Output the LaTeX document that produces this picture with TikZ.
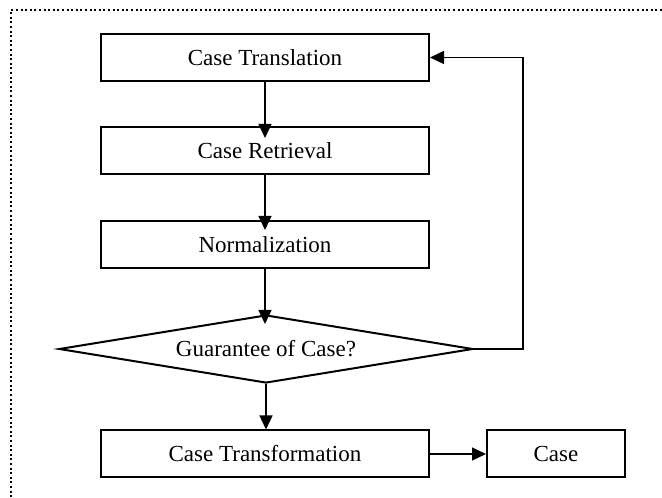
\documentclass[tikz,border=0pt]{standalone}
\usepackage{fontspec}
\setmainfont{Liberation Serif}
\usetikzlibrary{shapes.geometric,arrows.meta}
\tikzset{
  stepbox/.style={draw, line width=2pt, minimum width=328pt, minimum height=47pt, inner sep=0pt, font=\fontsize{23}{27}\selectfont},
  smallbox/.style={stepbox, minimum width=138pt},
  decision/.style={diamond, draw, line width=2pt, minimum width=414pt, minimum height=68pt, aspect=6, inner sep=0pt, font=\fontsize{23}{27}\selectfont},
  conn/.style={line width=1.4pt, -{Triangle[length=14pt,width=13pt]}},
  frameline/.style={line width=2pt, dash pattern=on 2pt off 2.6pt}
}
\begin{document}
\begin{tikzpicture}[x=1pt,y=1pt]
\useasboundingbox (0,0) rectangle (662,498);
\draw[frameline] (662,488) -- (11,488) -- (11,0);
\node[stepbox] (b1) at (265,440.5) {Case Translation};
\node[stepbox] (b2) at (265,347.5) {Case Retrieval};
\node[stepbox] (b3) at (265,253.5) {Normalization};
\node[decision] (d) at (266,149) {Guarantee of Case?};
\node[stepbox] (b4) at (265,44) {Case Transformation};
\node[smallbox] (b5) at (556,44) {Case};
\coordinate (fb) at (523,149);
\draw[conn, shorten >=-12pt] (b1.south) -- (b2.north);
\draw[conn, shorten >=-10pt] (b2.south) -- (b3.north);
\draw[conn, shorten >=-10pt] (b3.south) -- (b3.south |- d.north);
\draw[conn] (d.south) -- (d.south |- b4.north);
\draw[conn] (b4.east) -- (b5.west);
\draw[conn] (d.east) -- (fb) |- (b1.east);
\end{tikzpicture}
\end{document}
